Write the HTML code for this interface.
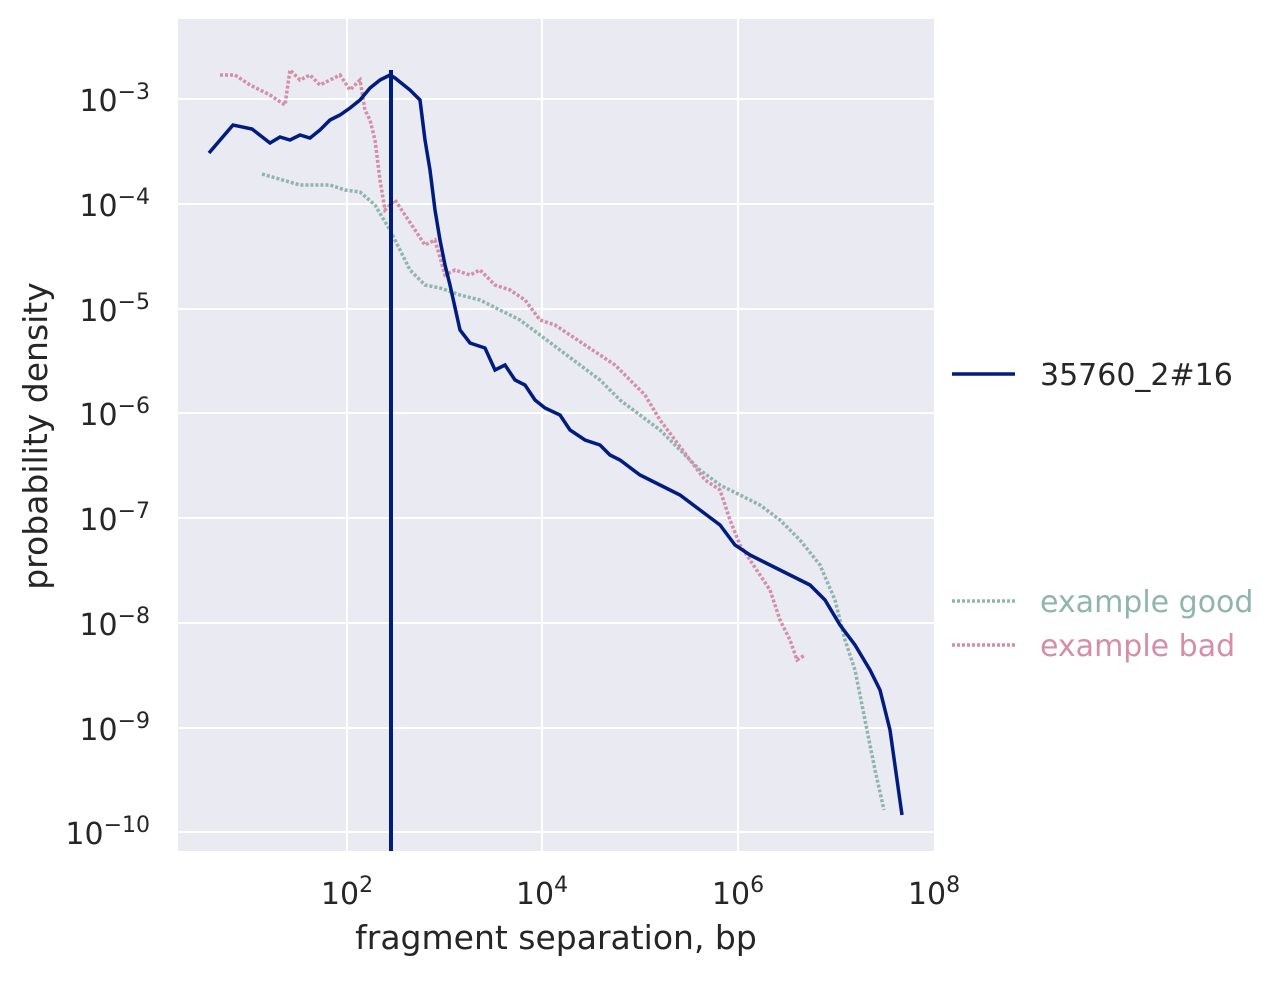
<!DOCTYPE html>
<html><head><meta charset="utf-8"><style>
body{margin:0;background:#fff;}
svg{font-family:"DejaVu Sans","Liberation Sans",sans-serif;}
</style></head><body>
<svg width="1283" height="976" xmlns="http://www.w3.org/2000/svg">
<rect x="178" y="19" width="756" height="832" fill="#eaeaf2"/>
<g stroke="#fff" stroke-width="2">
<line x1="347" y1="19" x2="347" y2="851"/><line x1="542" y1="19" x2="542" y2="851"/><line x1="738" y1="19" x2="738" y2="851"/>
<line x1="178" y1="99" x2="934" y2="99"/><line x1="178" y1="204" x2="934" y2="204"/><line x1="178" y1="309" x2="934" y2="309"/><line x1="178" y1="413" x2="934" y2="413"/><line x1="178" y1="518" x2="934" y2="518"/><line x1="178" y1="623" x2="934" y2="623"/><line x1="178" y1="728" x2="934" y2="728"/><line x1="178" y1="832" x2="934" y2="832"/>
</g>
<polyline fill="none" stroke="#8fb5ad" stroke-width="3.5" stroke-dasharray="3,2" points="262,174 300,185 330,185 345,190 360,192 375,205 390,230 400,250 410,270 425,285 440,288 460,295 480,300 500,310 520,320 540,335 560,350 580,365 600,380 620,400 640,415 660,430 680,450 700,470 720,485 740,495 760,505 780,520 800,540 820,565 835,600 845,640 855,670 865,720 875,770 884,810"/>
<polyline fill="none" stroke="#d48ea8" stroke-width="3.5" stroke-dasharray="3,2" points="220,75 235,75 250,85 270,95 285,105 290,70 300,80 310,75 320,85 330,80 340,75 350,90 360,80 365,110 370,120 375,140 380,180 385,210 395,200 405,215 415,230 425,245 435,240 445,275 455,270 470,275 480,270 495,285 510,290 525,300 540,320 555,325 570,335 585,345 600,355 615,365 630,380 645,395 660,420 675,440 690,460 705,480 720,490 730,520 740,545 750,560 760,575 770,590 780,620 790,640 797,660 805,655"/>
<polyline fill="none" stroke="#001c7f" stroke-width="3.5" points="209,153 233,125 252,129 270,143 280,137 290,140 300,135 310,138 320,130 330,120 340,115 350,108 360,100 370,88 380,80 390,75 395,78 400,82 410,90 420,100 425,140 430,170 435,210 440,240 445,265 450,285 460,330 470,343 485,348 495,370 505,365 515,380 525,385 535,400 545,408 560,415 570,430 585,440 600,445 610,455 620,460 640,475 660,485 680,495 700,510 720,525 735,545 750,555 770,565 790,575 810,585 825,600 840,625 855,645 870,670 880,690 890,730 902,815"/>
<line x1="391" y1="70" x2="391" y2="851" stroke="#001c7f" stroke-width="4"/>
<g fill="#262626" font-size="30">
<g text-anchor="middle">
<text x="347" y="904">10<tspan dy="-12" font-size="22">2</tspan></text>
<text x="542" y="904">10<tspan dy="-12" font-size="22">4</tspan></text>
<text x="738" y="904">10<tspan dy="-12" font-size="22">6</tspan></text>
<text x="934" y="904">10<tspan dy="-12" font-size="22">8</tspan></text>
</g>
<g text-anchor="end">
<text x="150" y="111">10<tspan dy="-12" font-size="22">−3</tspan></text>
<text x="150" y="216">10<tspan dy="-12" font-size="22">−4</tspan></text>
<text x="150" y="321">10<tspan dy="-12" font-size="22">−5</tspan></text>
<text x="150" y="425">10<tspan dy="-12" font-size="22">−6</tspan></text>
<text x="150" y="530">10<tspan dy="-12" font-size="22">−7</tspan></text>
<text x="150" y="635">10<tspan dy="-12" font-size="22">−8</tspan></text>
<text x="150" y="740">10<tspan dy="-12" font-size="22">−9</tspan></text>
<text x="150" y="844">10<tspan dy="-12" font-size="22">−10</tspan></text>
</g>
<text x="556" y="949" text-anchor="middle" font-size="33">fragment separation, bp</text>
<text transform="translate(47,436) rotate(-90)" text-anchor="middle" font-size="33">probability density</text>
</g>
<line x1="952" y1="374" x2="1015" y2="374" stroke="#001c7f" stroke-width="3.5"/>
<text x="1040" y="385" font-size="30" fill="#262626">35760_2#16</text>
<line x1="952" y1="601" x2="1015" y2="601" stroke="#8fb5ad" stroke-width="3.5" stroke-dasharray="3,2"/>
<text x="1040" y="612" font-size="30" fill="#8fb5ad">example good</text>
<line x1="952" y1="645" x2="1015" y2="645" stroke="#d48ea8" stroke-width="3.5" stroke-dasharray="3,2"/>
<text x="1040" y="656" font-size="30" fill="#d48ea8">example bad</text>
</svg>
</body></html>
